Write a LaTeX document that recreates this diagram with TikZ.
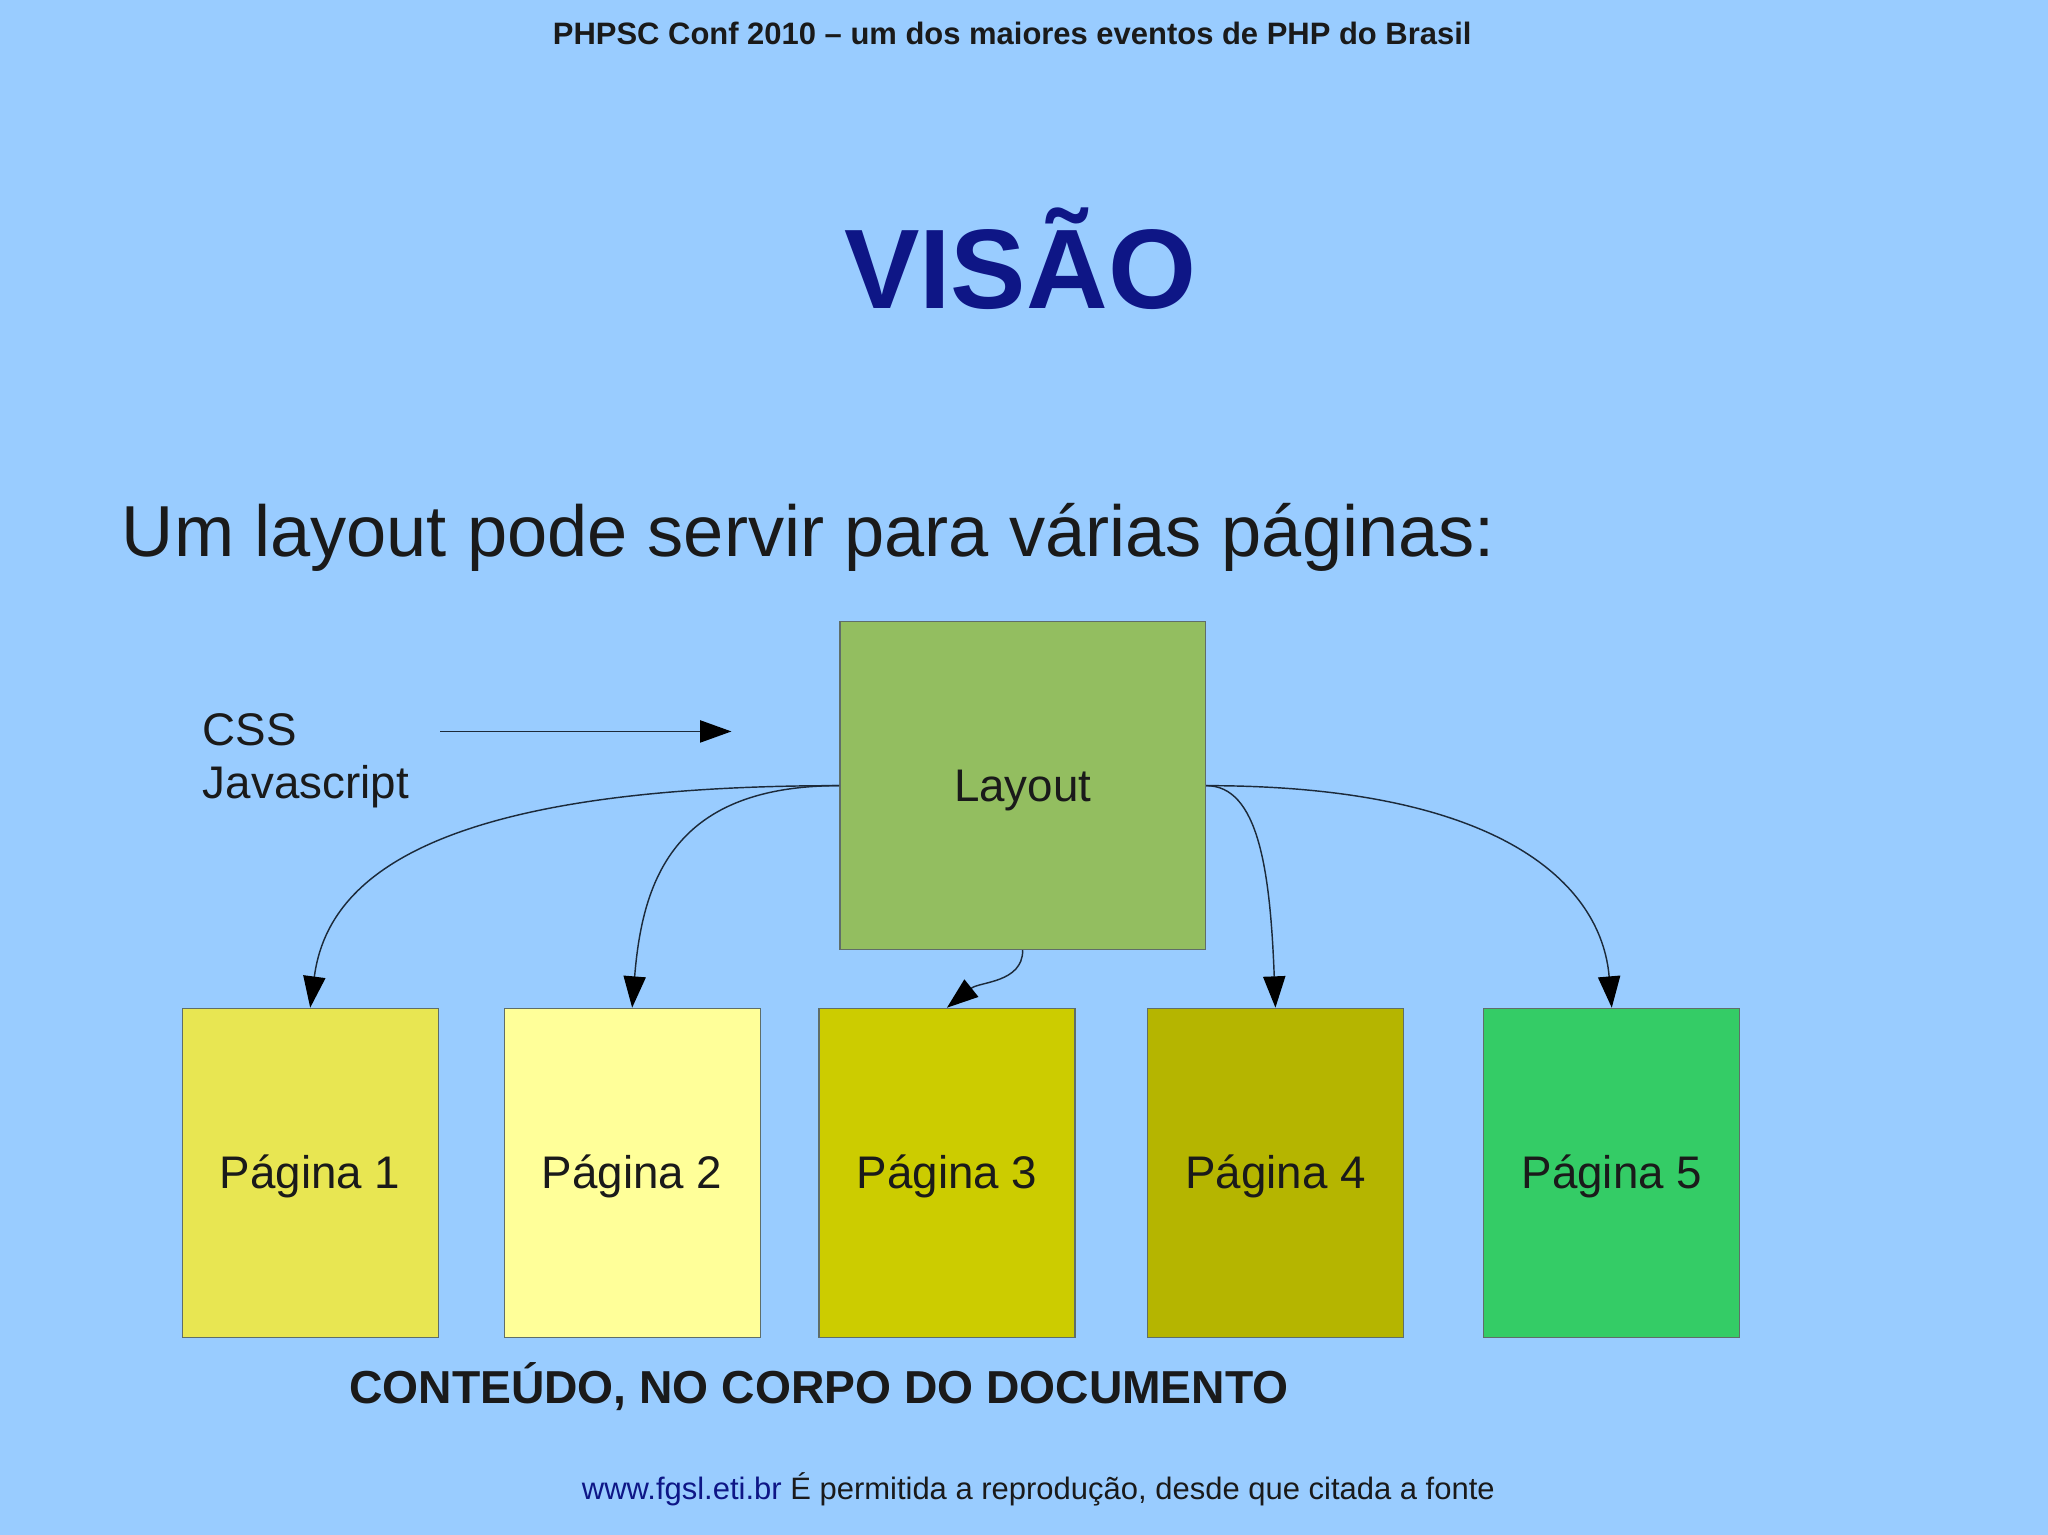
\documentclass[tikz,border=0pt]{standalone}
\usepackage{fontspec}
\setmainfont{Liberation Sans}
\usetikzlibrary{arrows.meta}
\definecolor{bg}{RGB}{153,204,255}
\definecolor{navy}{RGB}{14,22,134}
\definecolor{txt}{RGB}{26,26,26}
\definecolor{conn}{RGB}{28,42,58}
\definecolor{boxline}{RGB}{95,110,105}
\definecolor{layoutfill}{RGB}{147,190,96}
\definecolor{pone}{RGB}{232,230,82}
\definecolor{ptwo}{RGB}{255,255,153}
\definecolor{pthree}{RGB}{204,204,0}
\definecolor{pfour}{RGB}{181,181,0}
\definecolor{pfive}{RGB}{52,204,102}
\begin{document}
\begin{tikzpicture}[x=0.5pt,y=-0.5pt,
  mid/.style={font=\fontsize{17.5pt}{21pt}\selectfont, text=txt},
  shapebox/.style={draw=boxline, line width=0.5pt, inner sep=0pt,
    text height=1.2em, text depth=0pt, mid},
  pagebox/.style={shapebox, minimum width=98pt, minimum height=126pt},
  conarrow/.style={draw=conn, line width=0.55pt, -{Triangle[length=12pt,width=8.5pt,fill=black,color=black]}}
]
\useasboundingbox (0,0) rectangle (1568,1175);
\fill[bg] (0,0) rectangle (1568,1175);

% header
\node[anchor=base, font=\fontsize{11.85pt}{14pt}\selectfont\bfseries, text=txt] (hdr) at (775,34)
  {PHPSC Conf 2010 – um dos maiores eventos de PHP do Brasil};
% title
\node[anchor=base, font=\fontsize{43.3pt}{50pt}\selectfont\bfseries, text=navy] (title) at (781,236) {VISÃO};
% subtitle
\node[anchor=base west, inner sep=0pt, font=\fontsize{27.65pt}{32pt}\selectfont, text=txt] (sub) at (93,426)
  {Um layout pode servir para várias páginas:};

% CSS / Javascript
\node[anchor=base west, inner sep=0pt, mid] (css) at (155,570.5) {CSS};
\node[anchor=base west, inner sep=0pt, mid] (js) at (155,611.5) {Javascript};
\coordinate (cssA) at (337,560);
\coordinate (cssB) at (560,560);
\draw[conarrow] (cssA) -- (cssB);

% Layout
\node[shapebox, fill=layoutfill, minimum width=140pt, minimum height=125.5pt] (lay) at (783,601.5) {Layout};

% pages
\node[pagebox, fill=pone]   (p1) at (237.5,898) {Página 1};
\node[pagebox, fill=ptwo]   (p2) at (484,898)   {Página 2};
\node[pagebox, fill=pthree] (p3) at (725,898)   {Página 3};
\node[pagebox, fill=pfour]  (p4) at (976.5,898) {Página 4};
\node[pagebox, fill=pfive]  (p5) at (1234,898)  {Página 5};

% connectors
\draw[conarrow] (lay.west) .. controls +(-330,0) and +(12,-90) .. (p1.north);
\draw[conarrow] (lay.west) .. controls +(-125,0) and +(8,-100) .. (p2.north);
\draw[conarrow] (lay.south) .. controls +(0,25) and +(25,-20) .. (p3.north);
\draw[conarrow] (lay.east) .. controls +(40,0) and +(-4,-105) .. (p4.north);
\draw[conarrow] (lay.east) .. controls +(225,0) and +(-8,-95) .. (p5.north);

% bottom caption
\node[anchor=base, font=\fontsize{17.7pt}{21pt}\selectfont\bfseries, text=txt] (cont) at (627,1074.5)
  {CONTEÚDO, NO CORPO DO DOCUMENTO};
% footer
\node[anchor=base, font=\fontsize{11.86pt}{14pt}\selectfont, text=txt] (foot) at (795,1148)
  {\textcolor{navy}{www.fgsl.eti.br} É permitida a reprodução, desde que citada a fonte};
\end{tikzpicture}
\end{document}
